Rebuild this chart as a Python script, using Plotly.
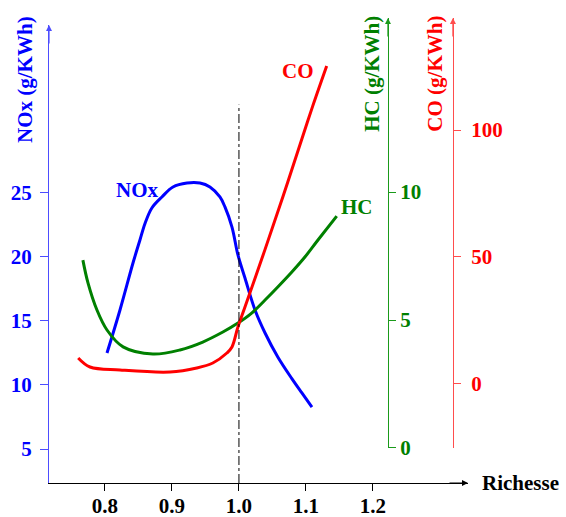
import plotly.graph_objects as go

# ---- data ----
nox_x = [0.803, 0.8224, 0.8418, 0.8522, 0.860, 0.870, 0.885, 0.9015, 0.9224, 0.9418, 0.9567,
         0.9716, 0.9791, 0.9896, 0.9985, 1.009, 1.024, 1.039, 1.058, 1.079, 1.094, 1.109]
nox_y = [12.5, 15.86, 19.53, 21.33, 22.66, 23.83, 24.69, 25.47, 25.78, 25.78, 25.47,
         24.69, 23.91, 22.34, 20.16, 18.36, 15.86, 14.06, 12.19, 10.5, 9.38, 8.28]

hc_x = [0.767, 0.7746, 0.788, 0.803, 0.827, 0.8716, 0.912, 0.946, 0.976, 0.9985,
        1.019, 1.039, 1.058, 1.079, 1.0985, 1.118, 1.146]
hc_y = [7.34, 6.45, 5.39, 4.61, 3.95, 3.67, 3.83, 4.14, 4.53, 4.88,
        5.27, 5.78, 6.29, 6.875, 7.46, 8.125, 9.06]

co_x = [0.760, 0.7776, 0.8224, 0.897, 0.937, 0.961, 0.982, 0.9896, 0.9985, 1.009,
        1.039, 1.066, 1.091, 1.110, 1.131]
co_y = [10.24, 6.69, 5.51, 4.72, 6.30, 8.27, 12.20, 14.57, 22.44, 30.31,
        53.0, 74.0, 94.1, 109.3, 125.2]

x_ticks = [0.8, 0.9, 1.0, 1.1, 1.2]
x_ticktext = ["0.8", "0.9", "1.0", "1.1", "1.2"]
nox_ticks = [5, 10, 15, 20, 25]
hc_ticks = [0, 5, 10]
co_ticks = [0, 50, 100]
stoich = 1.0

BLUE = "#0000ff"
GREEN = "#008000"
RED = "#ff0000"
FONT = "Liberation Serif"
FS = 21

X_RANGE = [0.7164, 1.342]
NOX_RANGE = [2.344, 38.125]
HC_RANGE = [0, 16.80]
CO_RANGE = [-25.2, 144.1]

SM = 1.0
fig = go.Figure()
fig.add_trace(go.Scatter(x=nox_x, y=nox_y, mode="lines", xaxis="x", yaxis="y",
                         line=dict(color=BLUE, width=3, shape="spline", smoothing=SM),
                         showlegend=False, hoverinfo="skip"))
fig.add_trace(go.Scatter(x=hc_x, y=hc_y, mode="lines", xaxis="x", yaxis="y2",
                         line=dict(color=GREEN, width=3, shape="spline", smoothing=SM),
                         showlegend=False, hoverinfo="skip"))
fig.add_trace(go.Scatter(x=co_x, y=co_y, mode="lines", xaxis="x", yaxis="y3",
                         line=dict(color=RED, width=3, shape="spline", smoothing=SM),
                         showlegend=False, hoverinfo="skip"))

# stoichiometric dash-dot line
fig.add_shape(type="line", xref="x", yref="y", x0=stoich, x1=stoich, y0=NOX_RANGE[0], y1=31.9,
              line=dict(color="black", width=1, dash="dashdot"))

tf = lambda c: dict(family=FONT, size=FS, color=c, weight="bold")

fig.update_layout(
    width=566, height=517,
    margin=dict(l=49, r=98, t=18, b=34, autoexpand=False),
    paper_bgcolor="white", plot_bgcolor="rgba(0,0,0,0)",
    xaxis=dict(range=X_RANGE, showgrid=False, zeroline=False, showline=True,
               linecolor="black", linewidth=1.2, ticks="outside", ticklen=7,
               tickcolor="black", tickvals=x_ticks, ticktext=x_ticktext,
               tickfont=tf("black"), domain=[0, 1], automargin=False,
               ticklabelstandoff=-3),
    yaxis=dict(range=NOX_RANGE, domain=[0, 0.985], showgrid=False, zeroline=False,
               showline=True, linecolor="#4d4dff", linewidth=1.2, ticks="outside",
               ticklen=8, tickcolor="#4d4dff", tickvals=nox_ticks,
               tickfont=tf(BLUE), ticklabelstandoff=4, automargin=False),
    yaxis2=dict(range=HC_RANGE, domain=[0.0753, 1], anchor="free",
                position=0.809, side="right", showgrid=False, zeroline=False,
                showline=True, linecolor="#1a9a1a", linewidth=1.2, ticks="outside",
                ticklen=7, tickcolor="#1a9a1a", tickvals=hc_ticks, tickfont=tf(GREEN),
                automargin=False),
    yaxis3=dict(range=CO_RANGE, domain=[0.0753, 1], anchor="free",
                position=0.964, side="right", showgrid=False, zeroline=False,
                showline=True, linecolor="#ff4d4d", linewidth=1.2, ticks="outside",
                ticklen=7, tickcolor="#ff4d4d", tickvals=co_ticks, tickfont=tf(RED),
                ticklabelstandoff=6, automargin=False),
)

ann = []
# arrowheads at axis ends
ann.append(dict(xref="paper", yref="paper", x=0, y=0.985, ax=0, ay=20, text="",
                showarrow=True, arrowhead=2, arrowsize=1, arrowwidth=1.2, arrowcolor="#4d4dff"))
ann.append(dict(xref="paper", yref="paper", x=0.809, y=1.0, ax=0, ay=20, text="",
                showarrow=True, arrowhead=2, arrowsize=1, arrowwidth=1.2, arrowcolor="#1a9a1a"))
ann.append(dict(xref="paper", yref="paper", x=0.964, y=1.0, ax=0, ay=20, text="",
                showarrow=True, arrowhead=2, arrowsize=1, arrowwidth=1.2, arrowcolor="#ff4d4d"))
ann.append(dict(xref="paper", yref="paper", x=1.0, y=0, ax=-20, ay=0, text="",
                showarrow=True, arrowhead=2, arrowsize=1, arrowwidth=1.2, arrowcolor="black"))
# axis titles
ann.append(dict(xref="paper", yref="paper", x=-0.057, y=0.867, text="NOx (g/KWh)",
                xanchor="center", yanchor="middle",
                textangle=-90, showarrow=False, font=tf(BLUE)))
ann.append(dict(xref="paper", yref="paper", x=0.771, y=0.880, text="HC (g/KWh)",
                xanchor="center", yanchor="middle",
                textangle=-90, showarrow=False, font=tf(GREEN)))
ann.append(dict(xref="paper", yref="paper", x=0.921, y=0.880, text="CO (g/KWh)",
                xanchor="center", yanchor="middle",
                textangle=-90, showarrow=False, font=tf(RED)))
ann.append(dict(xref="paper", yref="paper", x=1.0, y=0, xanchor="left", yanchor="middle",
                xshift=12, text="Richesse", showarrow=False, font=tf("black")))
# curve labels
ann.append(dict(xref="x", yref="y", x=0.849, y=25.2, text="NOx", showarrow=False, font=tf(BLUE)))
ann.append(dict(xref="x", yref="y3", x=1.088, y=123.2, text="CO", showarrow=False, font=tf(RED)))
ann.append(dict(xref="x", yref="y2", x=1.176, y=9.41, text="HC", showarrow=False, font=tf(GREEN)))
fig.update_layout(annotations=ann)

fig.write_html("out.html", post_script="document.body.style.margin='0';",
               config={"displayModeBar": False})
